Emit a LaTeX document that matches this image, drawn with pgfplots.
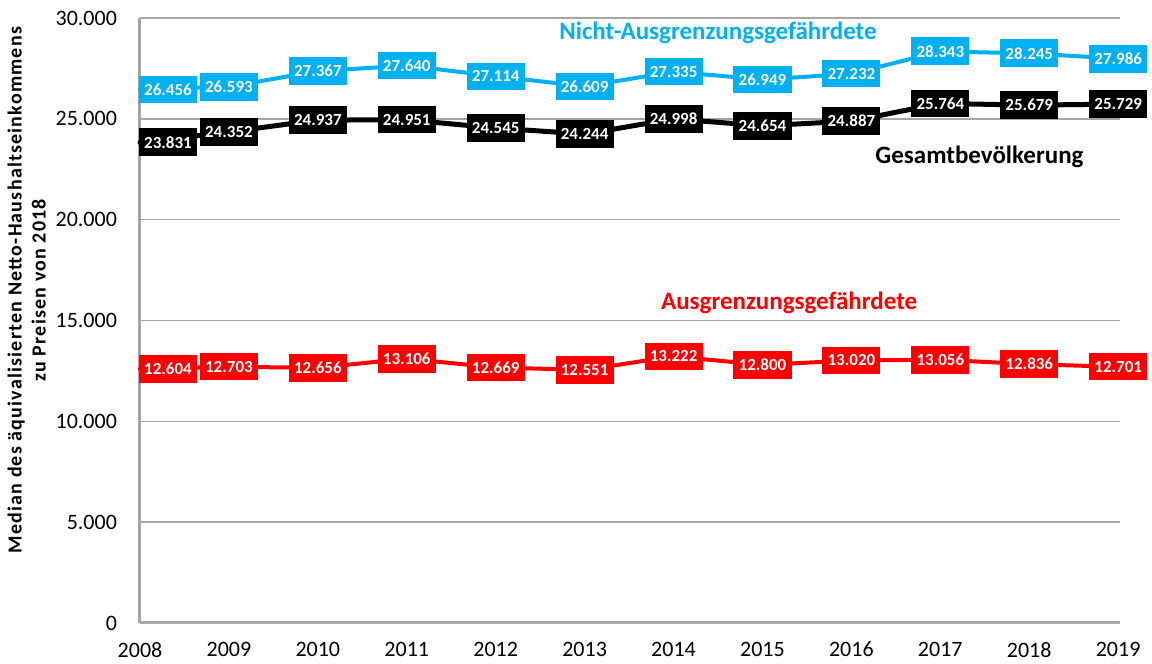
\documentclass[border=0pt]{standalone}
\usepackage{fontspec}
\setmainfont{Carlito}
\usepackage{pgfplots}
\pgfplotsset{compat=1.18}
\definecolor{cblue}{RGB}{0,176,240}
\definecolor{cred}{RGB}{255,0,0}
\definecolor{cgrid}{RGB}{166,166,166}
\begin{document}
\begin{tikzpicture}
\path[use as bounding box] (-70pt,-20.5pt) rectangle (506pt,311.5pt);
\begin{axis}[
  at={(0,0)}, anchor=south west,
  scale only axis,
  width=490pt, height=302.5pt,
  xmin=2008, xmax=2019.02,
  ymin=0, ymax=30000,
  axis x line=bottom, axis y line=left,
  axis line style={draw=cgrid, line width=1.5pt, -},
  xtick={2008,...,2019},
  ytick={0,5000,...,30000},
  scaled y ticks=false,
  major tick length=0pt,
  ymajorgrids,
  grid style={draw=cgrid, line width=0.7pt},
  /pgf/number format/assume math mode=true,
  tick label style={font=\fontsize{11}{13}\selectfont, text=black},
  xticklabel style={/pgf/number format/1000 sep={}, yshift=-6pt},
  yticklabel style={/pgf/number format/fixed, /pgf/number format/precision=0, /pgf/number format/1000 sep={.}, xshift=-8pt},
  ylabel={Median des äquivalisierten Netto-Haushaltseinkommens\\zu Preisen von 2018},
  ylabel style={align=center, font=\fontsize{10}{12}\bfseries\addfontfeatures{LetterSpace=6}, at={(ticklabel cs:0.55)}, yshift=-2pt},
  clip=false,
  visualization depends on={x \as \xval},
  nodes near coords,
  nodes near coords align={center},
  every node near coord/.append style={
    font=\fontsize{8.5}{10}\bfseries, text=white, anchor=center,
    inner xsep=2.6pt, inner ysep=4pt,
    xshift={(\xval<2008.5)*14pt},
    /pgf/number format/fixed, /pgf/number format/precision=0, /pgf/number format/1000 sep={.}, /pgf/number format/assume math mode=true},
]
\addplot[draw=cblue, line width=2pt, line cap=round, line join=round,
  every node near coord/.append style={fill=cblue}] coordinates {
  (2008,26456) (2009,26593) (2010,27367) (2011,27640) (2012,27114) (2013,26609)
  (2014,27335) (2015,26949) (2016,27232) (2017,28343) (2018,28245) (2019,27986)};
\addplot[draw=black, line width=2.5pt, line cap=round, line join=round,
  every node near coord/.append style={fill=black}] coordinates {
  (2008,23831) (2009,24352) (2010,24937) (2011,24951) (2012,24545) (2013,24244)
  (2014,24998) (2015,24654) (2016,24887) (2017,25764) (2018,25679) (2019,25729)};
\addplot[draw=cred, line width=2pt, line cap=round, line join=round,
  every node near coord/.append style={fill=cred}] coordinates {
  (2008,12604) (2009,12703) (2010,12656) (2011,13106) (2012,12669) (2013,12551)
  (2014,13222) (2015,12800) (2016,13020) (2017,13056) (2018,12836) (2019,12701)};
\node[font=\fontsize{12.5}{14}\bfseries, text=cblue] at (axis cs:2014.5,29256) {Nicht-Ausgrenzungsgefährdete};
\node[font=\fontsize{12.5}{14}\bfseries, text=black] at (axis cs:2017.44,23107) {Gesamtbevölkerung};
\node[font=\fontsize{12.5}{14}\bfseries, text=cred] at (axis cs:2015.3,15868) {Ausgrenzungsgefährdete};
\end{axis}
\end{tikzpicture}
\end{document}
